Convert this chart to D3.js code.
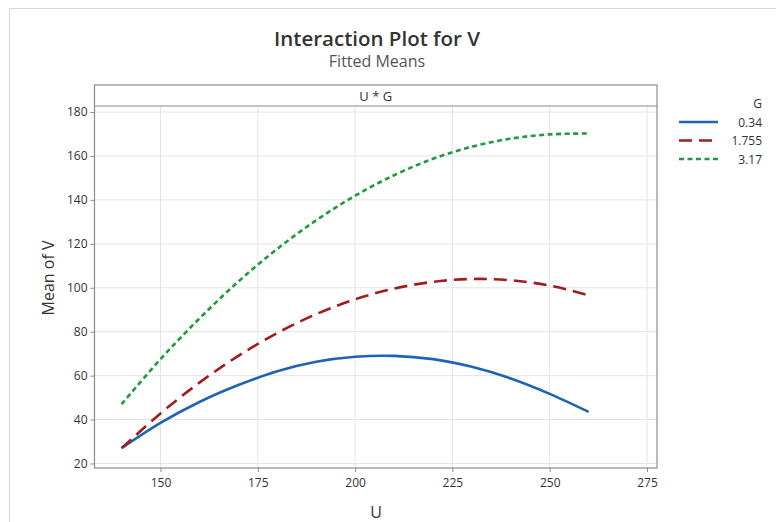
<!DOCTYPE html>
<html>
<head>
<meta charset="utf-8">
<script src="https://cdn.jsdelivr.net/npm/d3@7"></script>
<style>
  body { margin: 0; background: #fff; }
  text { font-family: "Open Sans", "Noto Sans", sans-serif; }
</style>
</head>
<body>
<script>
// values
let uValues = [140, 150, 160, 170, 180, 190, 200, 210, 220, 230, 240, 250, 260]
let gLevels = ['0.34', '1.755', '3.17']
let meanG034 = [27, 38.5, 48, 55.7, 62, 66.3, 68.6, 69, 67.5, 64, 58.7, 51.7, 43.5]
let meanG1755 = [27, 42.8, 56.8, 69, 79.4, 88, 94.7, 99.6, 102.7, 104, 103.4, 101, 96.5]
let meanG317 = [47, 67.5, 86, 102.8, 117.7, 130.7, 141.9, 151.2, 158.7, 164.2, 167.9, 169.8, 170.2]
let xTicks = [150, 175, 200, 225, 250, 275]
let yTicks = [20, 40, 60, 80, 100, 120, 140, 160, 180]

let seriesColors = ['#1f63b5', '#a31c1c', '#1f9a3c']
let seriesDash = [null, '13,7', '5,3.5']

let width = 776, height = 522
let panel = {left: 94.5, right: 657, top: 85, strip: 106, bottom: 468}

let svg = d3.select('body').append('svg')
  .attr('width', width)
  .attr('height', height)

// outer frame
svg.append('rect')
  .attr('x', 9.5).attr('y', 8.5)
  .attr('width', width).attr('height', height)
  .attr('fill', 'none')
  .attr('stroke', '#d9d9d9')

// titles
svg.append('text')
  .attr('x', 377).attr('y', 46)
  .attr('text-anchor', 'middle')
  .attr('font-size', 20.5)
  .attr('font-weight', 600)
  .attr('fill', '#333')
  .text('Interaction Plot for V')

svg.append('text')
  .attr('x', 377).attr('y', 67)
  .attr('text-anchor', 'middle')
  .attr('font-size', 16)
  .attr('fill', '#555')
  .text('Fitted Means')

let x = d3.scaleLinear().domain([150, 275]).range([160.5, 647])
let y = d3.scaleLinear().domain([20, 180]).range([463.5, 112])

// gridlines
svg.append('g').selectAll('line.v')
  .data(xTicks)
  .enter().append('line')
  .attr('x1', d => x(d)).attr('x2', d => x(d))
  .attr('y1', panel.strip).attr('y2', panel.bottom)
  .attr('stroke', '#e4e4e4')

svg.append('g').selectAll('line.h')
  .data(yTicks)
  .enter().append('line')
  .attr('x1', panel.left).attr('x2', panel.right)
  .attr('y1', d => y(d)).attr('y2', d => y(d))
  .attr('stroke', '#e4e4e4')

// panel and strip
svg.append('rect')
  .attr('x', panel.left).attr('y', panel.top)
  .attr('width', panel.right - panel.left)
  .attr('height', panel.bottom - panel.top)
  .attr('fill', 'none')
  .attr('stroke', '#8c8c8c')
  .attr('stroke-width', 1.2)

svg.append('line')
  .attr('x1', panel.left).attr('x2', panel.right)
  .attr('y1', panel.strip).attr('y2', panel.strip)
  .attr('stroke', '#8c8c8c')
  .attr('stroke-width', 1.2)

svg.append('text')
  .attr('x', (panel.left + panel.right) / 2).attr('y', 101)
  .attr('text-anchor', 'middle')
  .attr('font-size', 13)
  .attr('fill', '#333')
  .text('U * G')

// axes
let xAxis = svg.append('g')
  .attr('transform', `translate(0,${panel.bottom})`)
  .call(d3.axisBottom(x).tickValues(xTicks).tickSize(4).tickPadding(6))
xAxis.select('.domain').remove()

let yAxis = svg.append('g')
  .attr('transform', `translate(${panel.left},0)`)
  .call(d3.axisLeft(y).tickValues(yTicks).tickSize(4).tickPadding(3))
yAxis.select('.domain').remove()

svg.selectAll('.tick line').attr('stroke', '#8c8c8c')
svg.selectAll('.tick text')
  .attr('font-size', 12)
  .attr('fill', '#333')
  .attr('font-family', '"Open Sans", "Noto Sans", sans-serif')

svg.append('text')
  .attr('x', 376).attr('y', 518)
  .attr('text-anchor', 'middle')
  .attr('font-size', 16)
  .attr('fill', '#333')
  .text('U')

svg.append('text')
  .attr('transform', 'translate(54,278) rotate(-90)')
  .attr('text-anchor', 'middle')
  .attr('font-size', 16)
  .attr('fill', '#333')
  .text('Mean of V')

// lines
let allSeries = [meanG034, meanG1755, meanG317]
let line = d3.line()
  .x((d, i) => x(uValues[i]))
  .y(d => y(d))
  .curve(d3.curveCatmullRom.alpha(0.5))

allSeries.forEach((values, i) => {
  svg.append('path')
    .datum(values)
    .attr('d', line)
    .attr('fill', 'none')
    .attr('stroke', seriesColors[i])
    .attr('stroke-width', 2.6)
    .attr('stroke-dasharray', seriesDash[i])
})

// legend
svg.append('text')
  .attr('x', 762).attr('y', 108)
  .attr('text-anchor', 'end')
  .attr('font-size', 12)
  .attr('fill', '#333')
  .text('G')

gLevels.forEach((level, i) => {
  let ly = 122 + i * 18.5
  svg.append('line')
    .attr('x1', 679).attr('x2', 718)
    .attr('y1', ly).attr('y2', ly)
    .attr('stroke', seriesColors[i])
    .attr('stroke-width', 2.6)
    .attr('stroke-dasharray', seriesDash[i])
  svg.append('text')
    .attr('x', 762).attr('y', ly + 4.5)
    .attr('text-anchor', 'end')
    .attr('font-size', 12)
    .attr('fill', '#333')
    .text(level)
})
</script>
</body>
</html>
